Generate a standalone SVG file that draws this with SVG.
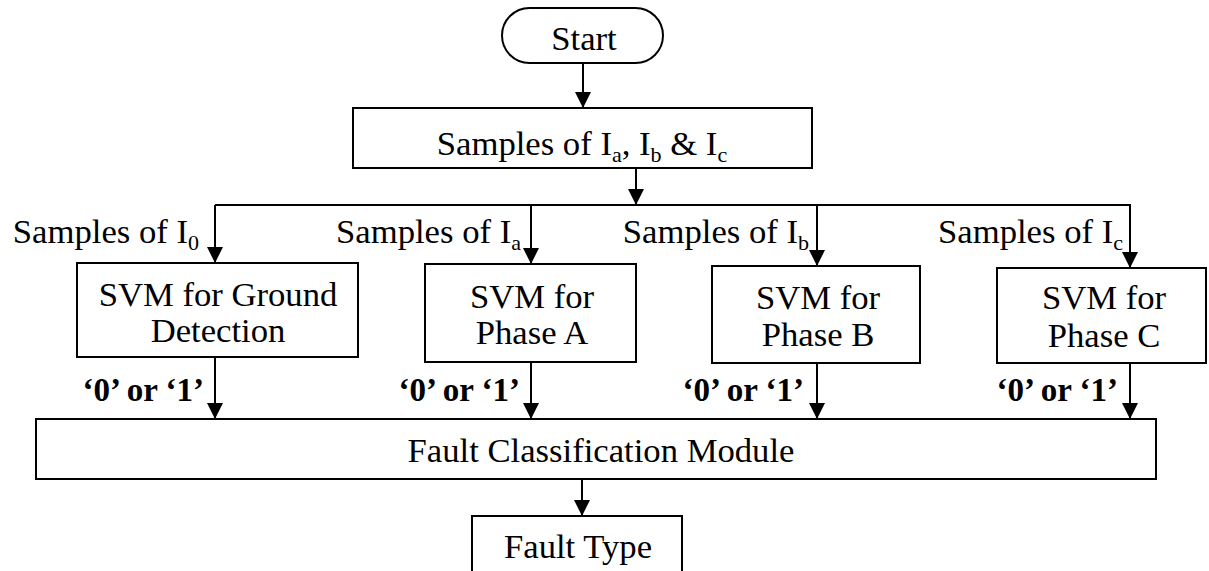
<svg xmlns="http://www.w3.org/2000/svg" width="1209" height="571" viewBox="0 0 1209 571">
<style>
.box{fill:#fff;stroke:#000;stroke-width:2}
.t{font-family:"Liberation Serif","Times New Roman",serif;font-size:33px;fill:#000}
.b{font-weight:bold;font-size:33px}
.s{font-size:21px}
.c{stroke:#000;stroke-width:2;fill:none}
.ar{marker-end:url(#arr)}
</style>
<defs>
<marker id="arr" markerUnits="userSpaceOnUse" markerWidth="16" markerHeight="17" refX="16" refY="8" orient="auto" viewBox="0 0 16 16">
<path d="M0,0 L16,8 L0,16 Z" fill="#000"/>
</marker>
</defs>
<rect width="1209" height="571" fill="#fff"/>

<g id="connectors">
<line class="c ar" x1="583" y1="63" x2="583" y2="108"/>
<line class="c ar" x1="636" y1="168" x2="636" y2="205"/>
<polyline class="c ar" points="215,205 1130,205 1130,268"/>
<line class="c ar" x1="215" y1="205" x2="215" y2="263"/>
<line class="c ar" x1="531" y1="205" x2="531" y2="264"/>
<line class="c ar" x1="817" y1="205" x2="817" y2="266"/>
<line class="c ar" x1="215" y1="357" x2="215" y2="419"/>
<line class="c ar" x1="531" y1="362" x2="531" y2="419"/>
<line class="c ar" x1="817" y1="363" x2="817" y2="419"/>
<line class="c ar" x1="1130" y1="363" x2="1130" y2="419"/>
<line class="c ar" x1="582" y1="479" x2="582" y2="516"/>
<text class="t" transform="translate(199,243) scale(1.05,1)" text-anchor="end">Samples of I<tspan class="s" dy="7">0</tspan></text>
<text class="t" transform="translate(521,243) scale(1.05,1)" text-anchor="end">Samples of I<tspan class="s" dy="7">a</tspan></text>
<text class="t" transform="translate(809,243) scale(1.05,1)" text-anchor="end">Samples of I<tspan class="s" dy="7">b</tspan></text>
<text class="t" transform="translate(1123,243) scale(1.05,1)" text-anchor="end">Samples of I<tspan class="s" dy="7">c</tspan></text>
<text class="t b" transform="translate(204,401)" text-anchor="end">‘0’ or ‘1’</text>
<text class="t b" transform="translate(520,401)" text-anchor="end">‘0’ or ‘1’</text>
<text class="t b" transform="translate(804,401)" text-anchor="end">‘0’ or ‘1’</text>
<text class="t b" transform="translate(1118,401)" text-anchor="end">‘0’ or ‘1’</text>
</g>

<g id="start">
<rect class="box" x="502" y="8" width="161" height="55" rx="27.5"/>
<text class="t" transform="translate(584,50) scale(1.05,1)" text-anchor="middle">Start</text>
</g>

<g id="samples">
<rect class="box" x="353" y="108" width="459" height="60"/>
<text class="t" transform="translate(582,155) scale(1.05,1)" text-anchor="middle">Samples of I<tspan class="s" dy="7">a</tspan><tspan dy="-7">, I</tspan><tspan class="s" dy="7">b</tspan><tspan dy="-7"> &amp; I</tspan><tspan class="s" dy="7">c</tspan></text>
</g>

<g id="svm-ground">
<rect class="box" x="77" y="263" width="281" height="94"/>
<text class="t" transform="translate(218,306) scale(1.05,1)" text-anchor="middle">SVM for Ground</text>
<text class="t" transform="translate(218,342) scale(1.05,1)" text-anchor="middle">Detection</text>
</g>

<g id="svm-a">
<rect class="box" x="425" y="264" width="211" height="98"/>
<text class="t" transform="translate(532,308) scale(1.05,1)" text-anchor="middle">SVM for</text>
<text class="t" transform="translate(532,344) scale(1.05,1)" text-anchor="middle">Phase A</text>
</g>

<g id="svm-b">
<rect class="box" x="712" y="266" width="208" height="97"/>
<text class="t" transform="translate(818,309) scale(1.05,1)" text-anchor="middle">SVM for</text>
<text class="t" transform="translate(818,346) scale(1.05,1)" text-anchor="middle">Phase B</text>
</g>

<g id="svm-c">
<rect class="box" x="997" y="268" width="209" height="95"/>
<text class="t" transform="translate(1104,309) scale(1.05,1)" text-anchor="middle">SVM for</text>
<text class="t" transform="translate(1104,347) scale(1.05,1)" text-anchor="middle">Phase C</text>
</g>

<g id="fcm">
<rect class="box" x="36" y="419" width="1120" height="60"/>
<text class="t" transform="translate(601,462) scale(1.05,1)" text-anchor="middle">Fault Classification Module</text>
</g>

<g id="fault-type">
<rect class="box" x="472" y="516" width="210" height="70"/>
<text class="t" transform="translate(578,558) scale(1.05,1)" text-anchor="middle">Fault Type</text>
</g>
</svg>
